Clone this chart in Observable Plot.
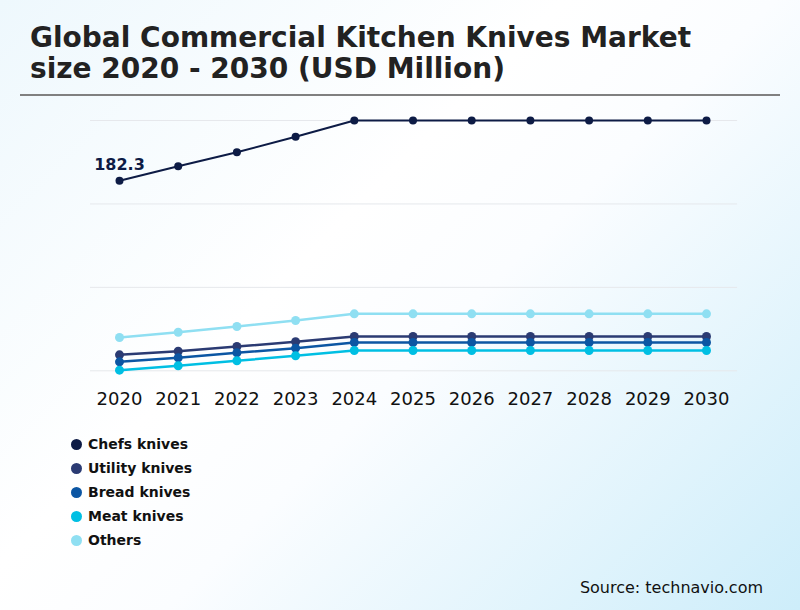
<!DOCTYPE html>
<html>
<head>
<meta charset="utf-8">
<script src="https://cdn.jsdelivr.net/npm/d3@7"></script>
<script src="https://cdn.jsdelivr.net/npm/@observablehq/plot@0.6"></script>
<style>
  html, body { margin: 0; padding: 0; }
  #page {
    position: relative; width: 800px; height: 610px; overflow: hidden;
    background: linear-gradient(135deg, #eef8fd 0%, #ffffff 40%, #fbfdff 55%, #cdedfa 100%);
    font-family: "DejaVu Sans", sans-serif;
  }
  #title {
    position: absolute; left: 30px; top: 22px; margin: 0;
    font-size: 28px; font-weight: bold; line-height: 31px; color: #222;
  }
  #sep { position: absolute; left: 20px; top: 94px; width: 760px; height: 2px; background: #808080; }
  #chart { position: absolute; left: 0; top: 100px; }
  #legend { position: absolute; left: 71px; top: 432px; }
  .item { display: flex; align-items: center; height: 24px; font-size: 14px; font-weight: bold; color: #111; }
  .dot { width: 11px; height: 11px; border-radius: 50%; margin-right: 6px; }
  #source { position: absolute; right: 37px; top: 578px; font-size: 16px; color: #111; }
</style>
</head>
<body>
<div id="page">
  <div id="title">Global Commercial Kitchen Knives Market<br>size 2020 - 2030 (USD Million)</div>
  <div id="sep"></div>
  <div id="chart"></div>
  <div id="legend"></div>
  <div id="source">Source: technavio.com</div>
</div>
<script>
const years = [2020, 2021, 2022, 2023, 2024, 2025, 2026, 2027, 2028, 2029, 2030];
const segments = ["Chefs knives", "Utility knives", "Bread knives", "Meat knives", "Others"];
const colors = ["#0d1b45", "#2b3b73", "#0c56a3", "#00bfe3", "#8fdff2"];
const chefs   = [182.3, 196.2, 209.6, 224.4, 240.0, 240.0, 240.0, 240.0, 240.0, 240.0, 240.0];
const utility = [15.3, 18.8, 23.3, 27.8, 32.9, 32.9, 32.9, 32.9, 32.9, 32.9, 32.9];
const bread   = [8.6, 12.5, 17.3, 21.7, 27.1, 27.1, 27.1, 27.1, 27.1, 27.1, 27.1];
const meat    = [0.6, 4.8, 9.6, 14.4, 19.5, 19.5, 19.5, 19.5, 19.5, 19.5, 19.5];
const others  = [31.9, 37.0, 42.5, 48.2, 54.6, 54.6, 54.6, 54.6, 54.6, 54.6, 54.6];
const gridValues = [0, 80, 160, 240];
const seriesValues = [chefs, utility, bread, meat, others];

const data = [];
segments.forEach((s, i) => years.forEach((y, j) => data.push({segment: s, year: y, value: seriesValues[i][j]})));
const chefsData = data.filter(d => d.segment === "Chefs knives");
const restData = data.filter(d => d.segment !== "Chefs knives");

const chart = Plot.plot({
  width: 800,
  height: 320,
  marginLeft: 119,
  marginRight: 94,
  marginTop: 20,
  marginBottom: 49.7,
  style: {background: "transparent", fontFamily: "DejaVu Sans, sans-serif", overflow: "visible"},
  x: {domain: [2020, 2030], label: null},
  y: {domain: [0, 240], axis: null, label: null},
  color: {domain: segments, range: colors},
  marks: [
    Plot.ruleY(gridValues, {x1: 2019.506, x2: 2030.53, stroke: "#e6e8ec", strokeWidth: 1}),
    Plot.axisX({ticks: years, tickFormat: d => String(d), tickSize: 0, tickPadding: 21, fontSize: 18, fill: "#111", color: "#111", label: null}),
    Plot.line(restData, {x: "year", y: "value", z: "segment", stroke: "segment", strokeWidth: 2.5}),
    Plot.dot(restData, {x: "year", y: "value", fill: "segment", r: 4.5}),
    Plot.line(chefsData, {x: "year", y: "value", stroke: "segment", strokeWidth: 2}),
    Plot.dot(chefsData, {x: "year", y: "value", fill: "segment", r: 4}),
    Plot.text(chefsData.filter(d => d.year === 2020), {x: "year", y: "value", text: d => String(d.value), dy: -16, fontSize: 16, fontWeight: "bold", fill: colors[0]})
  ]
});
document.getElementById("chart").appendChild(chart);

const legend = document.getElementById("legend");
segments.forEach((s, i) => {
  const item = document.createElement("div");
  item.className = "item";
  const dot = document.createElement("span");
  dot.className = "dot";
  dot.style.background = colors[i];
  item.appendChild(dot);
  item.appendChild(document.createTextNode(s));
  legend.appendChild(item);
});
</script>
</body>
</html>
